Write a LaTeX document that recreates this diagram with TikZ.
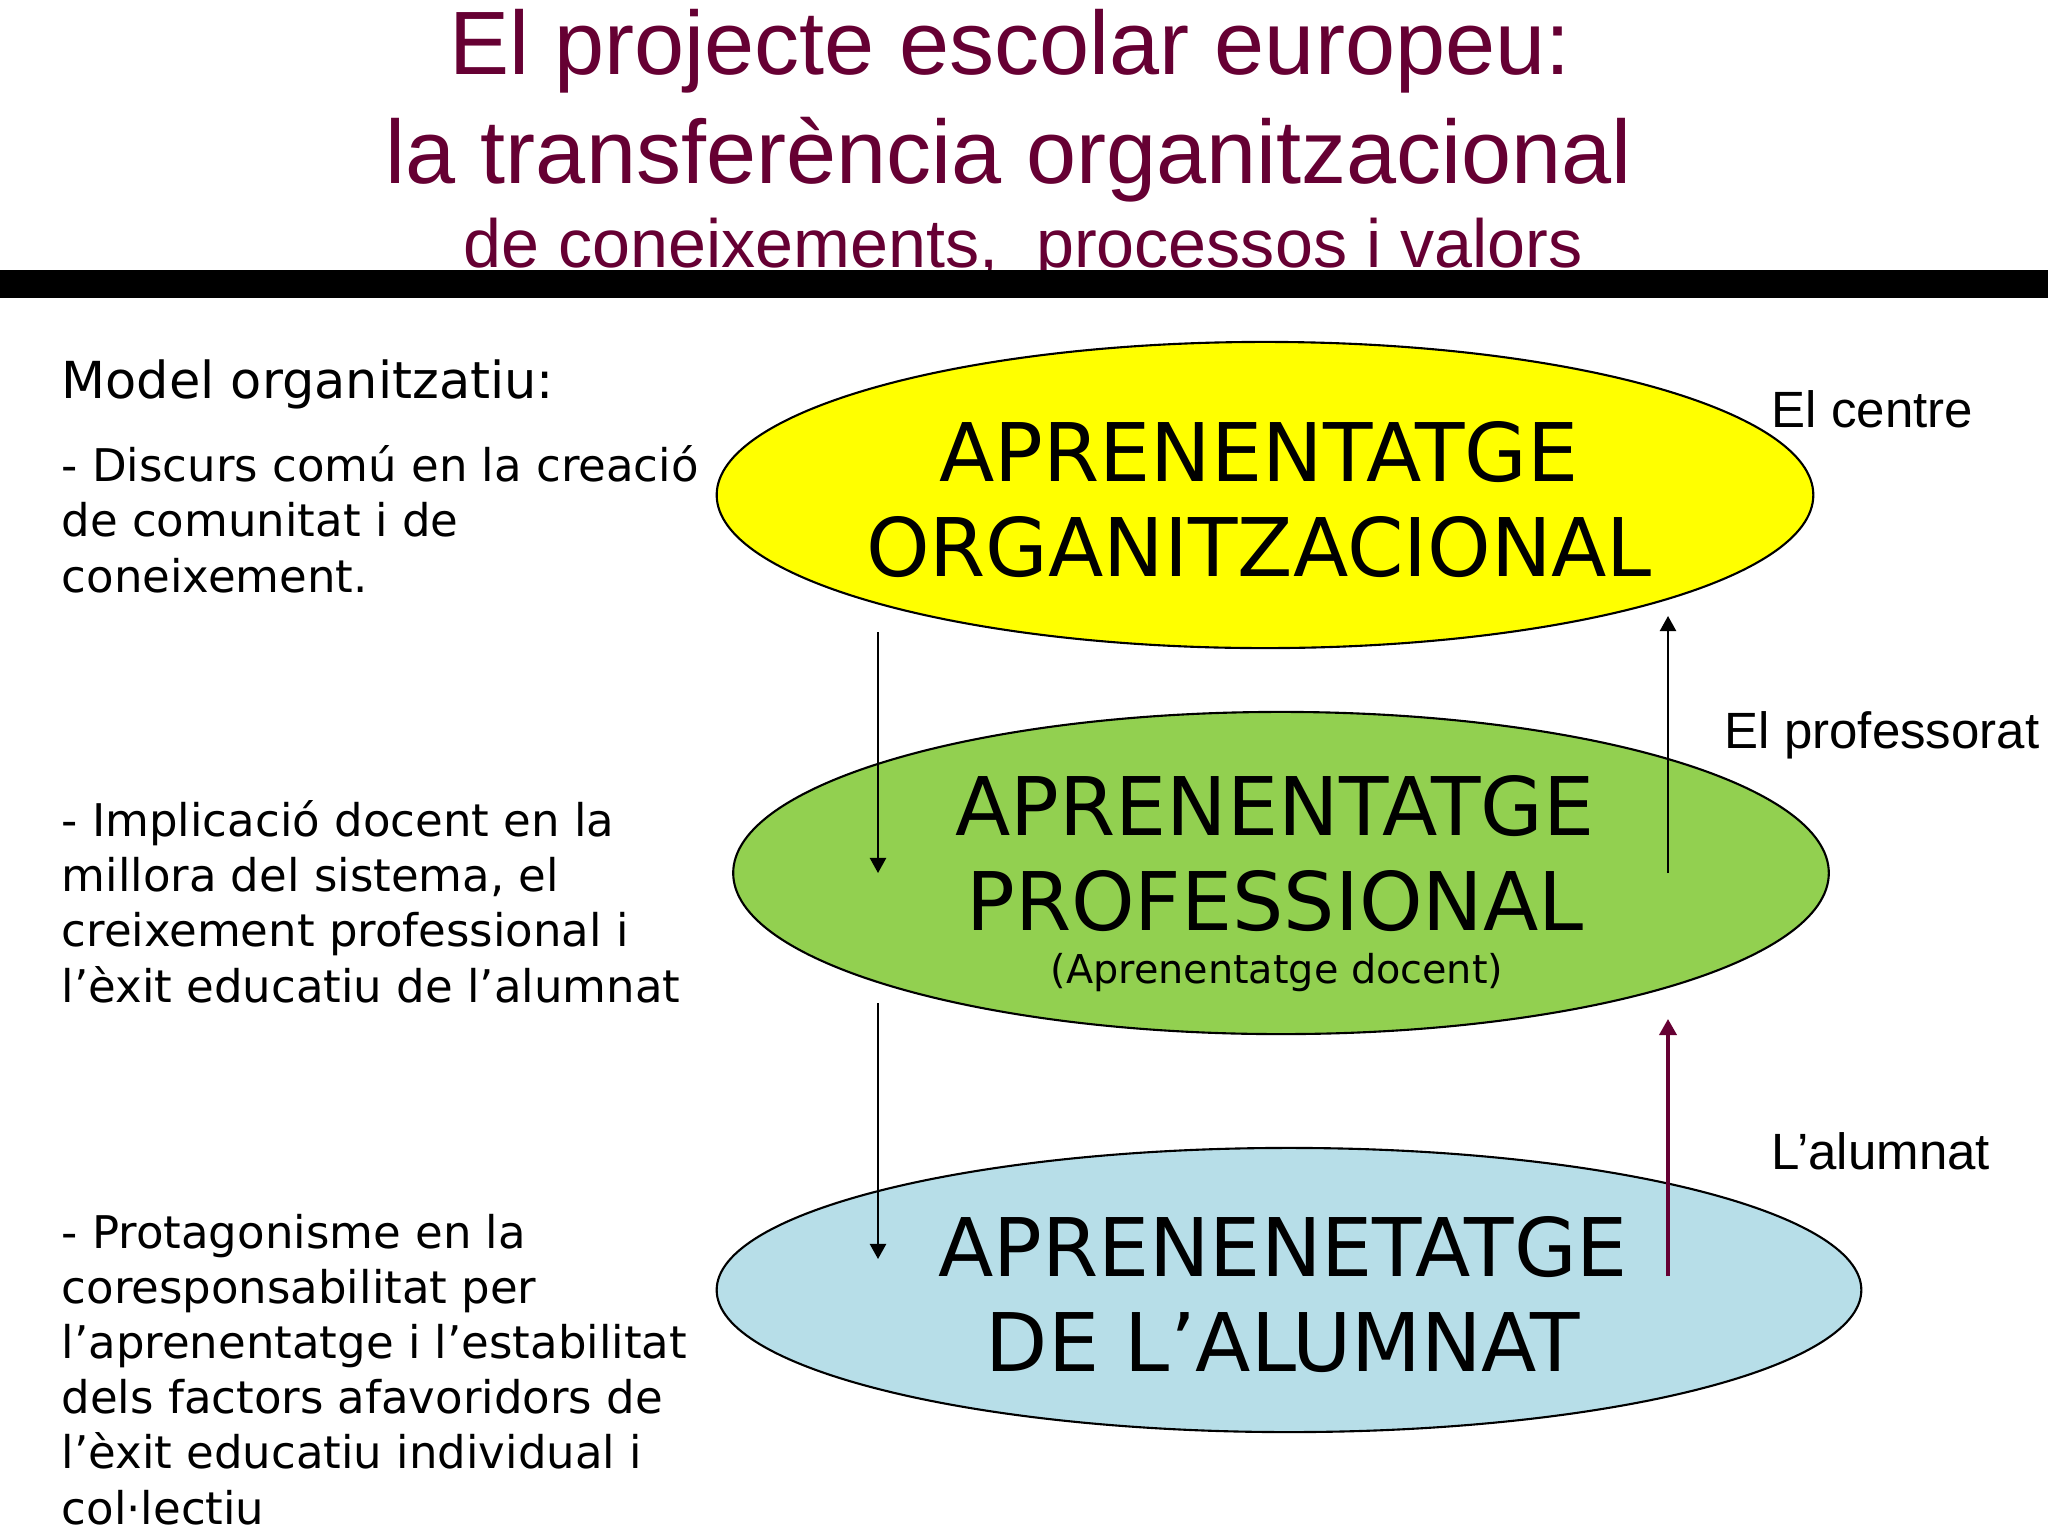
\documentclass[tikz,border=0pt]{standalone}
\usepackage{fontspec}
\setmainfont{DejaVu Sans}
\newfontfamily\arialfont{Liberation Sans}
\usetikzlibrary{shapes.geometric,arrows.meta}
\definecolor{titlemaroon}{RGB}{102,0,51}
\definecolor{orgyellow}{RGB}{255,255,0}
\definecolor{profgreen}{RGB}{146,208,80}
\definecolor{alumblue}{RGB}{183,222,232}

\begin{document}
\begin{tikzpicture}[x=0.01cm,y=-0.01cm,
    titletxt/.style={font=\arialfont\fontsize{25.6}{30}\selectfont,text=titlemaroon,anchor=base,inner sep=0pt},
    subtxt/.style={font=\arialfont\fontsize{19.4}{23}\selectfont,text=titlemaroon,anchor=base,inner sep=0pt},
    headtxt/.style={font=\fontsize{14.5}{17}\selectfont,anchor=base west,inner sep=0pt},
    bodytxt/.style={font=\fontsize{12.8}{15.65}\selectfont,align=left,anchor=base west,inner sep=0pt},
    ellbox/.style={ellipse,draw,line width=0.6pt,inner sep=0pt},
    elltxt/.style={font=\fontsize{23}{27}\selectfont,align=center,anchor=base,inner sep=0pt},
    smalltxt/.style={font=\fontsize{11.3}{13}\selectfont,anchor=base,inner sep=0pt},
    sidetxt/.style={font=\arialfont\fontsize{14.5}{17}\selectfont,anchor=base west,inner sep=0pt},
    downarr/.style={line width=0.6pt,-{Triangle[length=4.3pt,width=4.6pt]}},
    uparr/.style={line width=0.6pt,-{Triangle[length=4.3pt,width=4.6pt]}},
    uparrm/.style={draw=titlemaroon,line width=1pt,-{Triangle[length=4.6pt,width=4.9pt]}}]
  \useasboundingbox (0,0) rectangle (2048,1536);

  % title
  \node[titletxt] (t1) at (1010,74) {El projecte escolar europeu:};
  \node[titletxt] (t2) at (1009,183) {la transferència organitzacional};
  \node[subtxt] (t3) at (1023,267) {de coneixements,\ \ processos i valors};
  \fill (0,270) rectangle (2048,298);

  % left column (base = last line)
  \node[headtxt] (model) at (61,398) {Model organitzatiu:};
  \node[bodytxt] (b1) at (61,592) {- Discurs comú en la creació\\de comunitat i de\\coneixement.};
  \node[bodytxt] (b2) at (61,1002) {- Implicació docent en la\\millora del sistema, el\\creixement professional i\\l’èxit educatiu de l’alumnat};
  \node[bodytxt] (b3) at (61,1524) {- Protagonisme en la\\coresponsabilitat per\\l’aprenentatge i l’estabilitat\\dels factors afavoridors de\\l’èxit educatiu individual i\\col·lectiu};

  % ellipses
  \node[ellbox,fill=orgyellow,minimum width=10.96cm,minimum height=3.06cm] (org) at (1265,495) {};
  \node[ellbox,fill=profgreen,minimum width=10.95cm,minimum height=3.22cm] (prof) at (1281,873) {};
  \node[ellbox,fill=alumblue,minimum width=11.44cm,minimum height=2.84cm] (alum) at (1289,1290) {};

  \node[elltxt] (orgtxt) at (1259,576) {APRENENTATGE\\ORGANITZACIONAL};
  \node[elltxt] (proftxt) at (1275,930) {APRENENTATGE\\PROFESSIONAL};
  \node[smalltxt] (docent) at (1277,983) {(Aprenentatge docent)};
  \node[elltxt] (alumtxt) at (1283,1371) {APRENENETATGE\\DE L’ALUMNAT};

  % arrows
  \coordinate (dnA) at (878,632);
  \coordinate (dnB) at (878,1003);
  \coordinate (upA) at (1668,873);
  \coordinate (upB) at (1668,1276);
  \draw[downarr] (dnA) -- (dnA |- prof.center);
  \draw[downarr] (dnB) -- ++(0,256);
  \draw[uparr] (upA) -- ++(0,-257);
  \draw[uparrm] (upB) -- ++(0,-257);

  % right labels
  \node[sidetxt] (centre) at (1771,427) {El centre};
  \node[sidetxt] (profs) at (1724,748) {El professorat};
  \node[sidetxt] (alumnes) at (1771,1169) {L’alumnat};
\end{tikzpicture}
\end{document}
